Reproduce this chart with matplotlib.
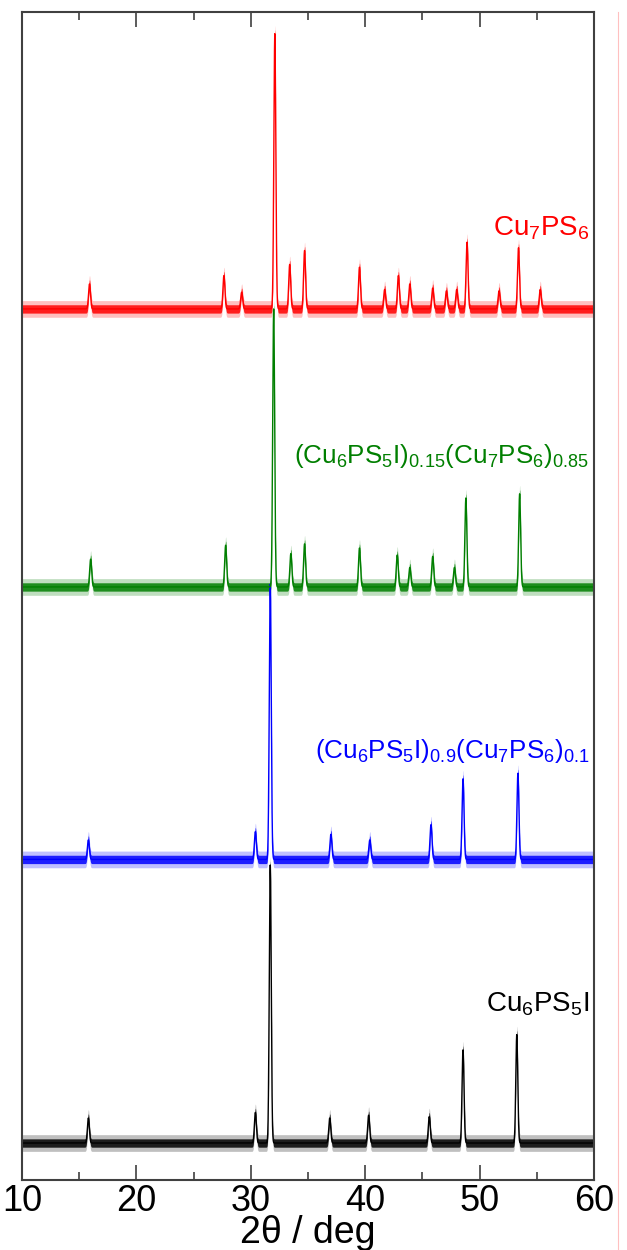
import numpy as np
import matplotlib.pyplot as plt
from matplotlib.lines import Line2D

plt.rcParams['font.family'] = ['Liberation Sans', 'DejaVu Sans']
plt.rcParams['mathtext.fontset'] = 'custom'
plt.rcParams['mathtext.rm'] = 'Liberation Sans'
plt.rcParams['mathtext.it'] = 'Liberation Sans:italic'

# peak tables: 2theta (deg), height (relative to main peak)
cu6ps5i_pos = [15.8, 30.4, 31.7, 36.9, 40.3, 45.6, 48.55, 53.25]
cu6ps5i_int = [0.09, 0.11, 1.00, 0.09, 0.10, 0.095, 0.335, 0.39]

mix09_pos = [15.8, 30.4, 31.7, 37.0, 40.4, 45.75, 48.55, 53.35]
mix09_int = [0.07, 0.10, 0.99, 0.09, 0.07, 0.125, 0.29, 0.31]

mix015_pos = [16.0, 27.8, 32.0, 33.5, 34.7, 39.5, 42.8, 43.9, 45.9, 47.8, 48.8, 53.5]
mix015_int = [0.10, 0.15, 1.00, 0.12, 0.155, 0.14, 0.115, 0.07, 0.11, 0.07, 0.32, 0.335]

cu7ps6_pos = [15.9, 27.65, 29.2, 32.1, 33.4, 34.7, 39.5, 41.7, 42.9, 43.9, 45.9,
              47.1, 48.0, 48.9, 51.7, 53.4, 55.3]
cu7ps6_int = [0.09, 0.12, 0.06, 0.99, 0.16, 0.21, 0.15, 0.07, 0.12, 0.09, 0.075,
              0.065, 0.07, 0.24, 0.065, 0.22, 0.07]

offsets = [0.0, 1.02, 2.0, 3.0]
colors = ['black', '#0000ff', '#007f00', '#ff0000']
labels = [r'$\mathrm{Cu_6PS_5I}$',
          r'$\mathrm{(Cu_6PS_5I)_{0.9}(Cu_7PS_6)_{0.1}}$',
          r'$\mathrm{(Cu_6PS_5I)_{0.15}(Cu_7PS_6)_{0.85}}$',
          r'$\mathrm{Cu_7PS_6}$']
label_y = [0.50, 1.41, 2.47, 3.29]

noise = 0.03   # half width of the noisy baseline band
sigma = 0.085

tt = np.arange(10, 60.001, 0.01)


def pattern(pos, inten):
    y = np.zeros_like(tt)
    for p, h in zip(pos, inten):
        y += h * np.exp(-0.5 * ((tt - p) / sigma) ** 2)
    return y


fig = plt.figure(figsize=(6.27, 12.5), dpi=100)
ax = fig.add_axes([22 / 627, 1 - 1180 / 1250, 572 / 627, 1168 / 1250])

data = [(cu6ps5i_pos, cu6ps5i_int), (mix09_pos, mix09_int),
        (mix015_pos, mix015_int), (cu7ps6_pos, cu7ps6_int)]

for (pos, inten), off, c, lab, ly in zip(data, offsets, colors, labels, label_y):
    y = pattern(pos, inten) + off
    ax.fill_between(tt, y - noise, y + noise, color=c, alpha=0.25, lw=0)
    ax.fill_between(tt, y - noise * 0.5, y + noise * 0.5, color=c, alpha=0.85, lw=0)
    ax.plot(tt, y, color=c, lw=1.0)
    fs = 18.7 if '(' in lab else 20
    ax.text(59.6, ly, lab, color=c, fontsize=fs, ha='right', va='center')

ax.set_xlim(10, 60)
ax.set_ylim(-0.133, 4.068)
ax.set_yticks([])
ax.set_xticks(range(10, 61, 10))
ax.set_xticks(range(15, 60, 10), minor=True)
ax.tick_params(axis='x', which='both', direction='in', top=True, bottom=True,
               width=1.2, color='#404040', labelsize=26, pad=3)
ax.tick_params(axis='x', which='major', length=11)
ax.tick_params(axis='x', which='minor', length=6)
for s in ax.spines.values():
    s.set_color('#404040')
    s.set_linewidth(1.5)
ax.set_xlabel('2θ / deg', fontsize=27, labelpad=-3)

# faint pink line at right edge of the original image
fig.add_artist(Line2D([618 / 627, 618 / 627], [0, 1 - 12 / 1250],
                      transform=fig.transFigure, color='#ffc0c0', lw=0.8))

fig.savefig('out.png', dpi=100)
